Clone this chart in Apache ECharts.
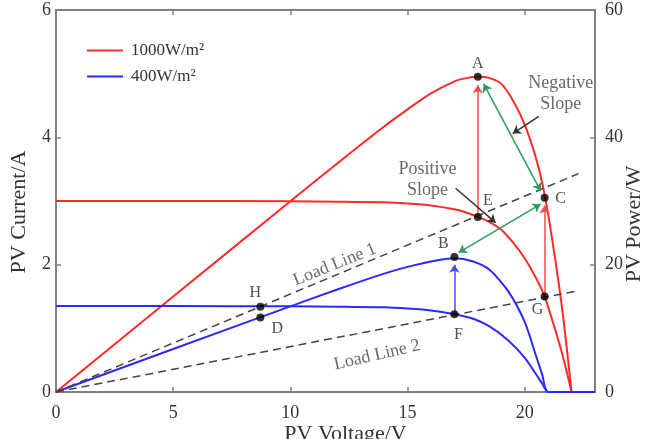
<!DOCTYPE html>
<html>
<head>
<meta charset="utf-8" />
<script src="https://cdn.jsdelivr.net/npm/echarts@6/dist/echarts.min.js"></script>
<style>
  html, body { margin: 0; padding: 0; background: #fff; }
  #chart { width: 650px; height: 439px; }
</style>
</head>
<body>
<div id="chart"></div>
<script>
// 1000W/m2 curves
const redV = [0, 5, 10, 12, 14, 15, 16, 17, 17.5, 18, 18.5, 19, 19.5, 20, 20.5, 20.85, 21.2, 21.6, 22]
const redI = [3.0, 3.0, 2.995, 2.99, 2.98, 2.96, 2.93, 2.87, 2.82, 2.75, 2.67, 2.55, 2.35, 2.1, 1.78, 1.5, 1.1, 0.6, 0]
const redP = [0, 15, 29.95, 35.9, 41.7, 44.4, 46.9, 48.8, 49.3, 49.5, 49.3, 48.4, 45.8, 42, 36.5, 31, 23.3, 13, 0]

// 400W/m2 curves
const blueV = [0, 5, 10, 12, 14, 15, 16, 17, 17.8, 18.5, 19.3, 20, 20.5, 20.75, 21, 23]
const blueI = [1.35, 1.35, 1.345, 1.34, 1.33, 1.31, 1.28, 1.22, 1.15, 1.03, 0.81, 0.54, 0.27, 0.13, 0, 0]
const blueP = [0, 6.75, 13.45, 16.1, 18.6, 19.65, 20.5, 21.0, 20.5, 19.2, 15.8, 11, 5.5, 2.7, 0, 0]

// load lines (current axis)
const load1V = [0, 22.3]
const load1I = [0, 3.43]
const load2V = [0, 22.3]
const load2I = [0, 1.59]

// labelled operating points (in current-axis units)
const pointNames = ['A', 'B', 'C', 'D', 'E', 'F', 'G', 'H']
const pointV = [18, 17, 20.85, 8.72, 18, 17, 20.85, 8.72]
const pointI = [4.95, 2.12, 3.05, 1.17, 2.75, 1.22, 1.5, 1.34]

// arrows: [startV, startI, endV, endI]
const redArrows = [[18, 2.75, 18, 4.82], [20.85, 1.5, 20.85, 2.93]]
const blueArrows = [[17, 1.22, 17, 2.0]]
const greenArrows = [[18.25, 4.84, 20.68, 3.16], [17.18, 2.19, 20.68, 2.95]]
const blackArrows = [[20.6, 4.33, 19.49, 4.06], [17.05, 3.2, 18.76, 2.66]]

// annotation texts
const noteText = ['Load Line 1', 'Load Line 2', 'Negative\nSlope', 'Positive\nSlope']
const noteV = [11.9, 13.7, 21.54, 15.85]
const noteI = [2.0, 0.58, 4.69, 3.33]

const xTicks = { min: 0, max: 23, interval: 5 }
const iTicks = { min: 0, max: 6, interval: 2 }
const pTicks = { min: 0, max: 60, interval: 20 }

const serif = 'Liberation Serif'
const axisColor = '#808080'
const labelOffset = {
  A: [0, -13], B: [-11, -13], C: [16, 1], D: [17, 11],
  E: [10, -16], F: [4, 20], G: [-7, 13], H: [-5, -14],
}
const noteRotate = [22, 13, 0, 0]

const zip = (a, b) => a.map((v, i) => [v, b[i]])
const arrowData = (arr) => arr.map((a) => ({ coords: [[a[0], a[1]], [a[2], a[3]]] }))

function curveSeries(name, color, yAxisIndex, data) {
  return {
    name: name,
    type: 'line',
    yAxisIndex: yAxisIndex,
    symbol: 'none',
    smooth: 0.25,
    color: color,
    lineStyle: { width: 2 },
    data: data,
  }
}

function arrowSeries(arr, color, both) {
  return {
    type: 'lines',
    coordinateSystem: 'cartesian2d',
    xAxisIndex: 0,
    yAxisIndex: 0,
    symbol: both ? ['arrow', 'arrow'] : ['none', 'arrow'],
    symbolSize: 8,
    lineStyle: { color: color, width: 1.5, opacity: 1 },
    z: 5,
    data: arrowData(arr),
  }
}

const chart = echarts.init(document.getElementById('chart'))

const axisCommon = {
  axisLine: { show: true, onZero: false, lineStyle: { color: axisColor, width: 2 } },
  axisTick: { show: true, inside: true, length: 5, lineStyle: { color: axisColor, width: 1.5 } },
  splitLine: { show: false },
}

const option = {
  animation: false,
  grid: { left: 56, right: 55, top: 10, bottom: 47, containLabel: false, outerBoundsMode: 'none' },
  legend: {
    orient: 'vertical',
    left: 81,
    top: 37,
    itemWidth: 36,
    itemHeight: 14,
    itemGap: 9,
    itemStyle: { opacity: 0 },
    data: ['1000W/m²', '400W/m²'],
    textStyle: { fontFamily: serif, fontSize: 17, color: '#333', padding: [0, 0, 0, 3] },
  },
  xAxis: [
    {
      type: 'value',
      ...xTicks,
      ...axisCommon,
      name: 'PV Voltage/V',
      nameLocation: 'middle',
      nameGap: 31,
      nameMoveOverlap: false,
      nameTextStyle: { fontFamily: serif, fontSize: 22, color: '#333', padding: [0, 0, 0, 40] },
      axisLabel: { fontFamily: serif, fontSize: 18, color: '#333', margin: 12, showMaxLabel: false },
    },
    {
      type: 'value',
      position: 'top',
      ...xTicks,
      ...axisCommon,
      axisLabel: { show: false },
    },
  ],
  yAxis: [
    {
      type: 'value',
      ...iTicks,
      ...axisCommon,
      name: 'PV Current/A',
      nameLocation: 'middle',
      nameGap: 26,
      nameTextStyle: { fontFamily: serif, fontSize: 22, color: '#333', padding: [0, 22, 0, 0] },
      axisLabel: { fontFamily: serif, fontSize: 18, color: '#333', margin: 5 },
    },
    {
      type: 'value',
      position: 'right',
      ...pTicks,
      ...axisCommon,
      name: 'PV Power/W',
      nameLocation: 'middle',
      nameGap: 28,
      nameMoveOverlap: false,
      nameTextStyle: { fontFamily: serif, fontSize: 22, color: '#333', padding: [0, 46, 0, 0] },
      axisLabel: { fontFamily: serif, fontSize: 18, color: '#333', margin: 10 },
    },
  ],
  series: [
    curveSeries('1000W/m²', '#ff2a2a', 0, zip(redV, redI)),
    curveSeries('1000W/m²', '#ff2a2a', 1, zip(redV, redP)),
    curveSeries('400W/m²', '#2a2aff', 0, zip(blueV, blueI)),
    curveSeries('400W/m²', '#2a2aff', 1, zip(blueV, blueP)),
    {
      type: 'line',
      yAxisIndex: 0,
      symbol: 'none',
      lineStyle: { color: '#444', width: 1.5, type: [8, 5] },
      z: 3,
      data: zip(load1V, load1I),
    },
    {
      type: 'line',
      yAxisIndex: 0,
      symbol: 'none',
      lineStyle: { color: '#444', width: 1.5, type: [8, 5] },
      z: 3,
      data: zip(load2V, load2I),
    },
    arrowSeries(redArrows, '#f24a4a', false),
    arrowSeries(blueArrows, '#4a4aff', false),
    arrowSeries(greenArrows, '#2f9a5c', true),
    arrowSeries(blackArrows, '#333333', false),
    {
      type: 'scatter',
      yAxisIndex: 0,
      symbolSize: 8,
      itemStyle: { color: '#000' },
      z: 10,
      label: {
        show: true,
        position: 'inside',
        formatter: '{b}',
        fontFamily: serif,
        fontSize: 16,
        color: '#222',
      },
      data: pointNames.map((n, i) => ({
        name: n,
        value: [pointV[i], pointI[i]],
        label: { offset: labelOffset[n] },
      })),
    },
    {
      type: 'scatter',
      yAxisIndex: 0,
      symbolSize: 0.1,
      itemStyle: { color: 'transparent' },
      z: 9,
      label: {
        show: true,
        position: 'inside',
        formatter: '{b}',
        fontFamily: serif,
        fontSize: 18,
        lineHeight: 21,
        align: 'center',
        color: '#444',
      },
      data: noteText.map((t, i) => ({
        name: t,
        value: [noteV[i], noteI[i]],
        label: { rotate: noteRotate[i] },
      })),
    },
  ],
}

chart.setOption(option)
</script>
</body>
</html>
